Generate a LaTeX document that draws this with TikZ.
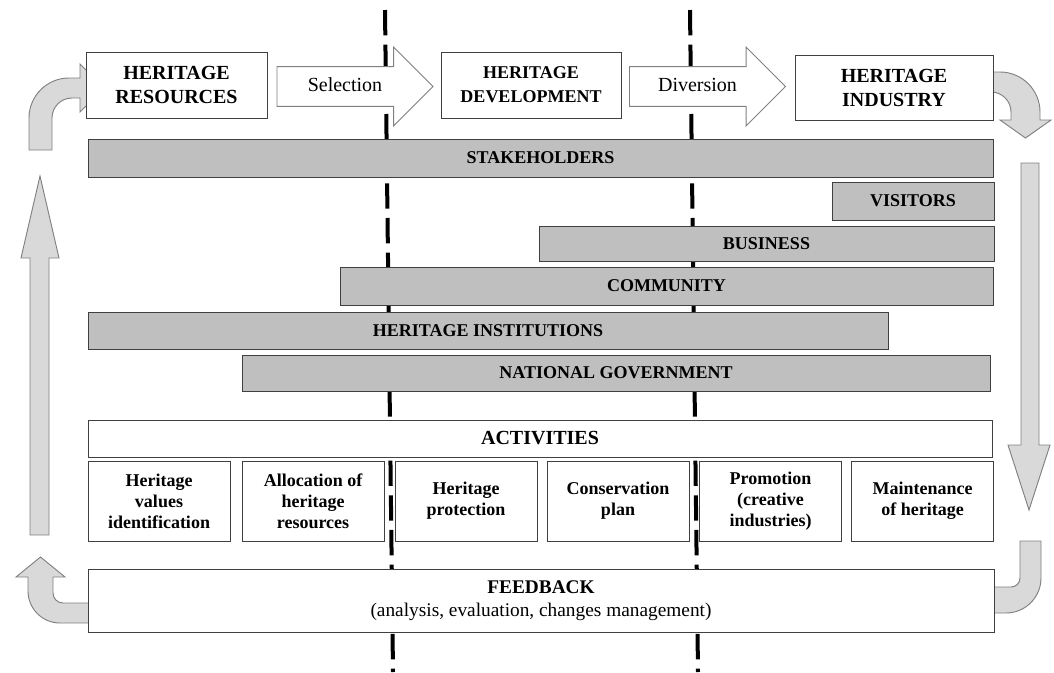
\documentclass[tikz,border=0pt]{standalone}
\usepackage{fontspec}
\setmainfont{Liberation Serif}
\usetikzlibrary{shapes.arrows}
\colorlet{barfill}{black!25}
\colorlet{loopfill}{black!15}
\colorlet{edge}{black!75}
\tikzset{
	stage/.style={rectangle,draw=edge,fill=white,line width=0.7pt,align=center,inner sep=0pt,minimum height=49.5pt,font=\fontsize{15}{18}\selectfont\bfseries},
	actor/.style={rectangle,draw=edge,fill=barfill,line width=0.7pt,inner sep=0pt,minimum height=28.5pt,font=\fontsize{13.5}{16}\selectfont\bfseries},
	task/.style={rectangle,draw=edge,fill=white,line width=0.7pt,align=center,inner sep=0pt,minimum width=106.5pt,minimum height=60pt,font=\fontsize{13.5}{15.75}\selectfont\bfseries},
	flow/.style={single arrow,draw=black!50,fill=white,line width=0.7pt,minimum height=117pt,single arrow head extend=14.6pt,text height=10pt,text depth=3pt,inner ysep=8.1pt,inner xsep=0pt,font=\fontsize{15}{18}\selectfont},
	loop/.style={draw=black!50,fill=loopfill,line width=0.7pt},
	divider/.style={line width=3pt,dash pattern=on 19pt off 7pt},
}
\begin{document}
\begin{tikzpicture}[x=0.75pt,y=-0.75pt]
\useasboundingbox (0,0) rectangle (1054,672);

 \draw[divider] (385,10) -- (393,672);
 \draw[divider] (690,10) -- (698,672);

% cycle arrows
 \draw[loop] (29,150) -- (29,118) arc[start angle=180,end angle=90,radius=30pt] -- (80,78) -- (80,64) -- (104,88) -- (80,112) -- (80,98) -- (72,98) arc[start angle=90,end angle=180,radius=15pt] -- (52,150) -- cycle;
 \draw[loop] (985,72) -- (1000,72) arc[start angle=90,end angle=0,radius=30pt] -- (1040,120) -- (1051,120) -- (1025.5,138) -- (1000,120) -- (1011,120) -- (1011,112) arc[start angle=0,end angle=90,radius=15pt] -- (985,92) -- cycle;
 \draw[loop] (1021,163) -- (1039,163) -- (1039,445) -- (1050,445) -- (1029,510) -- (1008,445) -- (1021,445) -- cycle;
 \draw[loop] (985,613) -- (1006,613) arc[start angle=270,end angle=360,radius=26.25pt] -- (1041,541) -- (1020,541) -- (1020,578) arc[start angle=0,end angle=-90,radius=6.75pt] -- (985,587) -- cycle;
 \draw[loop] (95,623) -- (60,623) arc[start angle=270,end angle=180,radius=24pt] -- (28,577) -- (16,577) -- (40.5,557) -- (65,577) -- (53,577) -- (53,593) arc[start angle=180,end angle=270,radius=7.5pt] -- (95,603) -- cycle;
 \draw[loop] (30,535) -- (30,258) -- (21,258) -- (40,176) -- (59,258) -- (49,258) -- (49,535) -- cycle;

 \node[stage,minimum width=135.75pt] (res) at (176.5,85) {HERITAGE\\RESOURCES};
 \node[stage,minimum width=135pt,font=\fontsize{13.5}{18}\selectfont\bfseries] (dev) at (531,85) {HERITAGE\\DEVELOPMENT};
 \node[stage,minimum width=148.5pt,minimum height=48.75pt] (ind) at (894,87.5) {HERITAGE\\INDUSTRY};
 \node[flow] (sel) at (345,86.5) {Selection};
 \node[flow] (div) at (697.5,86.5) {Diversion};

 \node[actor,minimum width=678.75pt] (stake) at (540.5,158) {STAKEHOLDERS};
 \node[actor,minimum width=121.5pt] (visit) at (913,201) {VISITORS};
 \node[actor,minimum width=341.25pt,minimum height=26.25pt] (busi) at (766.5,243.5) {BUSINESS};
 \node[actor,minimum width=489.75pt] (comm) at (666.5,286) {COMMUNITY};
 \node[actor,minimum width=600pt,minimum height=27.75pt] (inst) at (488,330.5) {HERITAGE INSTITUTIONS};
 \node[actor,minimum width=561pt,minimum height=27pt] (gov) at (616,373) {NATIONAL GOVERNMENT};

 \node[stage,minimum width=678pt,minimum height=27.75pt] (act) at (540,438.5) {ACTIVITIES};
 \node[task] (t1) at (159,501) {Heritage\\values\\identification};
 \node[task] (t2) at (313,501) {Allocation of\\heritage\\resources};
 \node[task] (t3) at (466,501) {Heritage\\protection};
 \node[task] (t4) at (618,501) {Conservation\\plan};
 \node[task] (t5) at (770.5,501) {Promotion\\(creative\\industries)};
 \node[task] (t6) at (922.5,501) {Maintenance\\of heritage};

 \node[stage,minimum width=679.5pt,minimum height=47.25pt,font=\fontsize{14.5}{17}\selectfont] (fb) at (541,600.5) {\textbf{FEEDBACK}\\(analysis, evaluation, changes management)};
\end{tikzpicture}
\end{document}
